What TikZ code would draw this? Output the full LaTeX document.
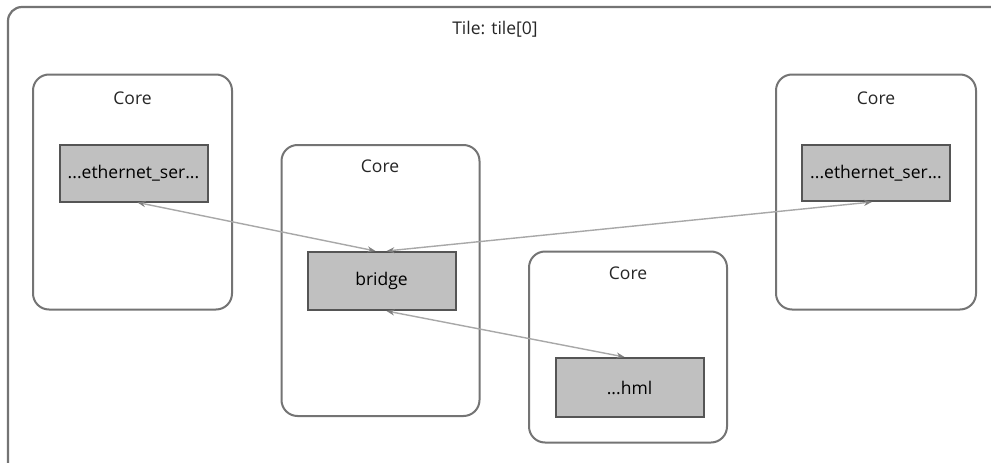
\documentclass[tikz,border=0pt]{standalone}
\usepackage{fontspec}
\setmainfont{Open Sans}
\usetikzlibrary{arrows.meta}
\definecolor{framegray}{HTML}{747474}
\definecolor{boxfill}{HTML}{C0C0C0}
\definecolor{boxline}{HTML}{555555}
\definecolor{linkgray}{HTML}{A8A8A8}
\definecolor{tipgray}{HTML}{808080}
\tikzset{
  tilebox/.style={draw=framegray, line width=2.2, rounded corners=14, minimum width=1000, minimum height=470, inner sep=0},
  corebox/.style={draw=framegray, line width=2, rounded corners=16, inner sep=0},
  taskbox/.style={draw=boxline, fill=boxfill, line width=2, inner sep=0, minimum width=148, font=\fontsize{17.5}{20}\selectfont},
  corelabel/.style={font=\fontsize{17.5}{20}\selectfont, text=black!85},
  link/.style={draw=linkgray, line width=1.4, {Stealth[length=8,width=6,color=tipgray]}-{Stealth[length=8,width=6,color=tipgray]}}
}
\begin{document}
\begin{tikzpicture}[x=1pt,y=-1pt]
  \useasboundingbox (0,0) rectangle (991,463);
  \clip (0,0) rectangle (991,463);
  \fill[white] (0,0) rectangle (991,463);

  % enclosing tile
  \node[tilebox] (tile) at (508,242) {};
  \node[corelabel] (tiletitle) at (495,29) {Tile: tile[0]};

  % cores
  \node[corebox, minimum width=199, minimum height=235] (core1) at (132.5,192) {};
  \node[corebox, minimum width=198, minimum height=271] (core2) at (380.5,280.5) {};
  \node[corebox, minimum width=198, minimum height=191] (core3) at (628,347) {};
  \node[corebox, minimum width=200, minimum height=235] (core4) at (876,192) {};

  \node[corelabel] (core1lbl) at (132.5,98) {Core};
  \node[corelabel] (core2lbl) at (380,166) {Core};
  \node[corelabel] (core3lbl) at (628,273) {Core};
  \node[corelabel] (core4lbl) at (876,98) {Core};

  % tasks
  \node[taskbox, minimum height=57] (eth1) at (133.5,173) {...ethernet\_ser...};
  \node[taskbox, minimum height=58] (bridge) at (381.5,281) {bridge};
  \node[taskbox, minimum height=59] (hml) at (629.5,387.5) {...hml};
  \node[taskbox, minimum height=56] (eth2) at (876,173) {...ethernet\_ser...};

  % channels
  \draw[link] ([xshift=4]eth1.south) -- ([xshift=-6]bridge.north);
  \draw[link] ([xshift=-4]eth2.south) -- ([xshift=5]bridge.north);
  \draw[link] ([xshift=5]bridge.south) -- ([xshift=-5]hml.north);
\end{tikzpicture}
\end{document}
